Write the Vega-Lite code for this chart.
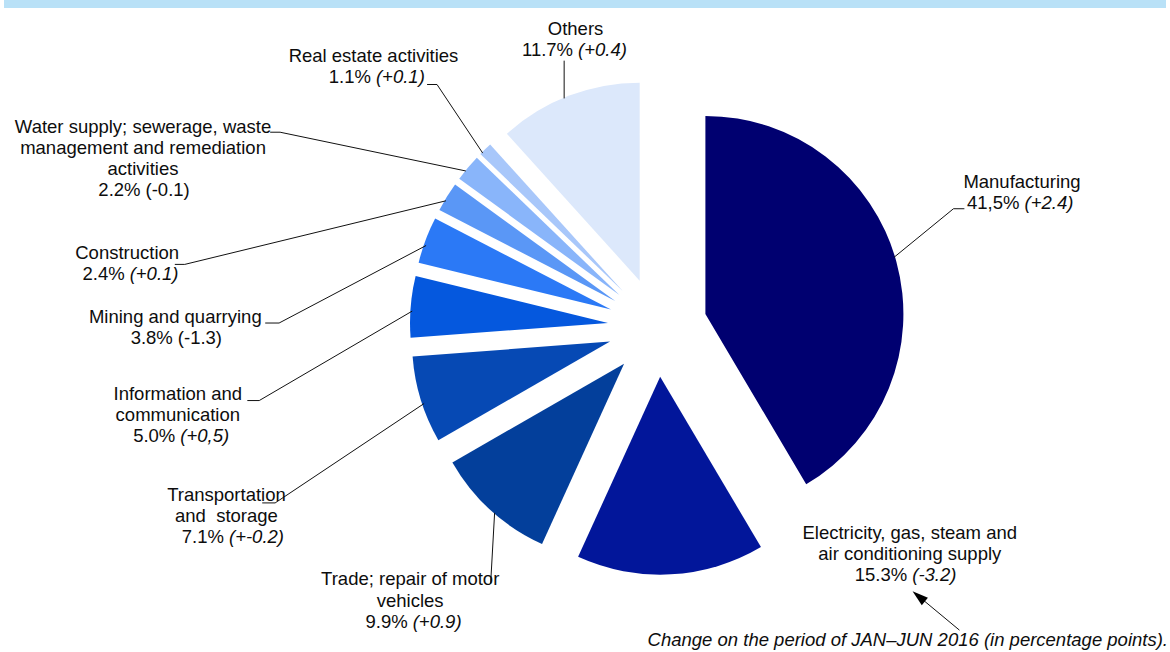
{
  "$schema": "https://vega.github.io/schema/vega-lite/v6.json",
  "width": 1170,
  "height": 652,
  "autosize": {"type": "fit", "contains": "padding"},
  "padding": 0,
  "background": "white",
  "config": {"view": {"stroke": null}},
  "datasets": {
    "sectors": [
      {"i": 0, "sector": "Manufacturing", "share": 41.5, "name": ["Manufacturing"], "pct": "41,5%", "chg": "(+2.4)"},
      {"i": 1, "sector": "Electricity", "share": 15.3, "name": ["Electricity, gas, steam and", "air conditioning supply"], "pct": "15.3%", "chg": "(-3.2)"},
      {"i": 2, "sector": "Trade", "share": 9.9, "name": ["Trade; repair of motor", "vehicles"], "pct": "9.9%", "chg": "(+0.9)"},
      {"i": 3, "sector": "Transport", "share": 7.1, "name": ["Transportation", "and\u00a0 storage"], "pct": "7.1%", "chg": "(+-0.2)"},
      {"i": 4, "sector": "ICT", "share": 5.0, "name": ["Information and", "communication"], "pct": "5.0%", "chg": "(+0,5)"},
      {"i": 5, "sector": "Mining", "share": 3.8, "name": ["Mining and quarrying"], "pct": "3.8%", "chg": "(-1.3)"},
      {"i": 6, "sector": "Construction", "share": 2.4, "name": ["Construction"], "pct": "2.4%", "chg": "(+0.1)"},
      {"i": 7, "sector": "Water", "share": 2.2, "name": ["Water supply; sewerage, waste", "management and remediation", "activities"], "pct": "2.2%", "chg": "(-0.1)"},
      {"i": 8, "sector": "RealEstate", "share": 1.1, "name": ["Real estate activities"], "pct": "1.1%", "chg": "(+0.1)"},
      {"i": 9, "sector": "Others", "share": 11.7, "name": ["Others"], "pct": "11.7%", "chg": "(+0.4)"}
    ],
    "labels": [
      {"sector": "Manufacturing", "lx": 367, "ly": 140},
      {"sector": "Electricity", "lx": 254, "ly": -213},
      {"sector": "Trade", "lx": -249, "ly": -260},
      {"sector": "Transport", "lx": -434, "ly": -175},
      {"sector": "ICT", "lx": -483, "ly": -73},
      {"sector": "Mining", "lx": -485.5, "ly": 4},
      {"sector": "Construction", "lx": -534, "ly": 68.3},
      {"sector": "Water", "lx": -518, "ly": 195.7},
      {"sector": "RealEstate", "lx": -286, "ly": 267},
      {"sector": "Others", "lx": -82.5, "ly": 294}
    ],
    "leaders": [
      {"sector": "Others", "k": 0, "x": -94, "y": 268},
      {"sector": "Others", "k": 1, "x": -94, "y": 230},
      {"sector": "RealEstate", "k": 0, "x": -232, "y": 244},
      {"sector": "RealEstate", "k": 1, "x": -222, "y": 244},
      {"sector": "RealEstate", "k": 2, "x": -176, "y": 175},
      {"sector": "Water", "k": 0, "x": -390, "y": 196},
      {"sector": "Water", "k": 1, "x": -380, "y": 196},
      {"sector": "Water", "k": 2, "x": -193, "y": 157},
      {"sector": "Construction", "k": 0, "x": -486, "y": 63},
      {"sector": "Construction", "k": 1, "x": -476, "y": 63},
      {"sector": "Construction", "k": 2, "x": -213, "y": 127},
      {"sector": "Mining", "k": 0, "x": -395, "y": 4},
      {"sector": "Mining", "k": 1, "x": -381, "y": 4},
      {"sector": "Mining", "k": 2, "x": -233, "y": 82},
      {"sector": "ICT", "k": 0, "x": -413, "y": -74},
      {"sector": "ICT", "k": 1, "x": -401, "y": -74},
      {"sector": "ICT", "k": 2, "x": -247, "y": 16},
      {"sector": "Transport", "k": 0, "x": -398, "y": -177},
      {"sector": "Transport", "k": 1, "x": -385, "y": -177},
      {"sector": "Transport", "k": 2, "x": -235, "y": -77},
      {"sector": "Trade", "k": 0, "x": -168, "y": -258},
      {"sector": "Trade", "k": 1, "x": -164, "y": -187},
      {"sector": "Manufacturing", "k": 0, "x": 309, "y": 119},
      {"sector": "Manufacturing", "k": 1, "x": 298, "y": 119},
      {"sector": "Manufacturing", "k": 2, "x": 238, "y": 70}
    ],
    "arrow": [
      {"x": 304, "y": -305, "x2": 263, "y2": -271}
    ],
    "notes": [
      {"caption": "Change on the period of JAN–JUN 2016 (in percentage points)."}
    ]
  },
  "layer": [
    {
      "data": {"values": [{}]},
      "mark": {"type": "rule", "color": "#B9E1F7", "strokeWidth": 8},
      "encoding": {
        "y": {"datum": 325, "type": "quantitative", "scale": {"domain": [-327, 325], "nice": false, "zero": false}, "axis": null}
      }
    },
    {
      "data": {"name": "sectors"},
      "transform": [
        {"stack": "share", "groupby": [], "sort": [{"field": "i", "order": "ascending"}], "as": ["s0", "s1"]},
        {"calculate": "50*sin(PI*(datum.s0+datum.s1)/100)", "as": "ex"},
        {"calculate": "50*cos(PI*(datum.s0+datum.s1)/100)", "as": "ey"}
      ],
      "mark": {"type": "arc", "radius": 198, "innerRadius": 0},
      "encoding": {
        "x": {"field": "ex", "type": "quantitative", "stack": null, "scale": {"domain": [-658, 512], "nice": false, "zero": false}, "axis": null},
        "y": {"field": "ey", "type": "quantitative", "stack": null, "scale": {"domain": [-327, 325], "nice": false, "zero": false}, "axis": null},
        "theta": {"field": "s0", "type": "quantitative", "stack": null, "scale": {"domain": [0, 100], "range": [0, 6.283185307]}},
        "theta2": {"field": "s1"},
        "color": {
          "field": "sector", "type": "nominal", "legend": null,
          "scale": {
            "domain": ["Manufacturing", "Electricity", "Trade", "Transport", "ICT", "Mining", "Construction", "Water", "RealEstate", "Others"],
            "range": ["#000070", "#02169A", "#033F9B", "#0649B4", "#0558DE", "#2B79F6", "#5A97F6", "#89B5FA", "#A8C7FA", "#DCE8FB"]
          }
        }
      }
    },
    {
      "data": {"name": "leaders"},
      "mark": {"type": "line", "color": "#111111", "strokeWidth": 1},
      "encoding": {
        "x": {"field": "x", "type": "quantitative", "scale": {"domain": [-658, 512], "nice": false, "zero": false}, "axis": null},
        "y": {"field": "y", "type": "quantitative", "scale": {"domain": [-327, 325], "nice": false, "zero": false}, "axis": null},
        "detail": {"field": "sector", "type": "nominal"},
        "order": {"field": "k", "type": "quantitative"}
      }
    },
    {
      "data": {"name": "sectors"},
      "transform": [
        {"lookup": "sector", "from": {"data": {"name": "labels"}, "key": "sector", "fields": ["lx", "ly"]}}
      ],
      "mark": {"type": "text", "font": "Liberation Sans", "fontSize": 18.5, "color": "#0d0d0d", "align": "center", "baseline": "alphabetic", "lineHeight": 21.3},
      "encoding": {
        "x": {"field": "lx", "type": "quantitative", "scale": {"domain": [-658, 512], "nice": false, "zero": false}, "axis": null},
        "y": {"field": "ly", "type": "quantitative", "scale": {"domain": [-327, 325], "nice": false, "zero": false}, "axis": null},
        "text": {"field": "name", "type": "nominal"}
      }
    },
    {
      "data": {"name": "sectors"},
      "transform": [
        {"lookup": "sector", "from": {"data": {"name": "labels"}, "key": "sector", "fields": ["lx", "ly"]}},
        {"calculate": "datum.ly - length(datum.name)*21.3", "as": "ly2"}
      ],
      "mark": {"type": "text", "font": "Liberation Sans", "fontSize": 18.5, "color": "#0d0d0d", "align": "right", "baseline": "alphabetic", "dx": -2.5},
      "encoding": {
        "x": {"field": "lx", "type": "quantitative", "scale": {"domain": [-658, 512], "nice": false, "zero": false}, "axis": null},
        "y": {"field": "ly2", "type": "quantitative", "scale": {"domain": [-327, 325], "nice": false, "zero": false}, "axis": null},
        "text": {"field": "pct", "type": "nominal"}
      }
    },
    {
      "data": {"name": "sectors"},
      "transform": [
        {"filter": {"not": {"field": "sector", "oneOf": ["Water", "Mining"]}}},
        {"lookup": "sector", "from": {"data": {"name": "labels"}, "key": "sector", "fields": ["lx", "ly"]}},
        {"calculate": "datum.ly - length(datum.name)*21.3", "as": "ly2"}
      ],
      "mark": {"type": "text", "font": "Liberation Sans", "fontSize": 18.5, "fontStyle": "italic", "color": "#0d0d0d", "align": "left", "baseline": "alphabetic", "dx": 2.5},
      "encoding": {
        "x": {"field": "lx", "type": "quantitative", "scale": {"domain": [-658, 512], "nice": false, "zero": false}, "axis": null},
        "y": {"field": "ly2", "type": "quantitative", "scale": {"domain": [-327, 325], "nice": false, "zero": false}, "axis": null},
        "text": {"field": "chg", "type": "nominal"}
      }
    },
    {
      "data": {"name": "sectors"},
      "transform": [
        {"filter": {"field": "sector", "oneOf": ["Water", "Mining"]}},
        {"lookup": "sector", "from": {"data": {"name": "labels"}, "key": "sector", "fields": ["lx", "ly"]}},
        {"calculate": "datum.ly - length(datum.name)*21.3", "as": "ly2"}
      ],
      "mark": {"type": "text", "font": "Liberation Sans", "fontSize": 18.5, "color": "#0d0d0d", "align": "left", "baseline": "alphabetic", "dx": 2.5},
      "encoding": {
        "x": {"field": "lx", "type": "quantitative", "scale": {"domain": [-658, 512], "nice": false, "zero": false}, "axis": null},
        "y": {"field": "ly2", "type": "quantitative", "scale": {"domain": [-327, 325], "nice": false, "zero": false}, "axis": null},
        "text": {"field": "chg", "type": "nominal"}
      }
    },
    {
      "data": {"name": "arrow"},
      "mark": {"type": "rule", "color": "#111111", "strokeWidth": 1},
      "encoding": {
        "x": {"field": "x", "type": "quantitative", "scale": {"domain": [-658, 512], "nice": false, "zero": false}, "axis": null},
        "y": {"field": "y", "type": "quantitative", "scale": {"domain": [-327, 325], "nice": false, "zero": false}, "axis": null},
        "x2": {"field": "x2"},
        "y2": {"field": "y2"}
      }
    },
    {
      "data": {"name": "arrow"},
      "mark": {"type": "point", "shape": "M0,-1L0.6,1L-0.6,1Z", "size": 256, "angle": 309.7, "filled": true, "color": "#000000", "opacity": 1},
      "encoding": {
        "x": {"field": "x2", "type": "quantitative", "scale": {"domain": [-658, 512], "nice": false, "zero": false}, "axis": null},
        "y": {"field": "y2", "type": "quantitative", "scale": {"domain": [-327, 325], "nice": false, "zero": false}, "axis": null}
      }
    },
    {
      "data": {"name": "notes"},
      "mark": {"type": "text", "font": "Liberation Sans", "fontSize": 18.5, "fontStyle": "italic", "color": "#0d0d0d", "align": "right", "baseline": "alphabetic"},
      "encoding": {
        "x": {"datum": 514, "type": "quantitative", "scale": {"domain": [-658, 512], "nice": false, "zero": false}, "axis": null},
        "y": {"datum": -321, "type": "quantitative", "scale": {"domain": [-327, 325], "nice": false, "zero": false}, "axis": null},
        "text": {"field": "caption", "type": "nominal"}
      }
    }
  ]
}
